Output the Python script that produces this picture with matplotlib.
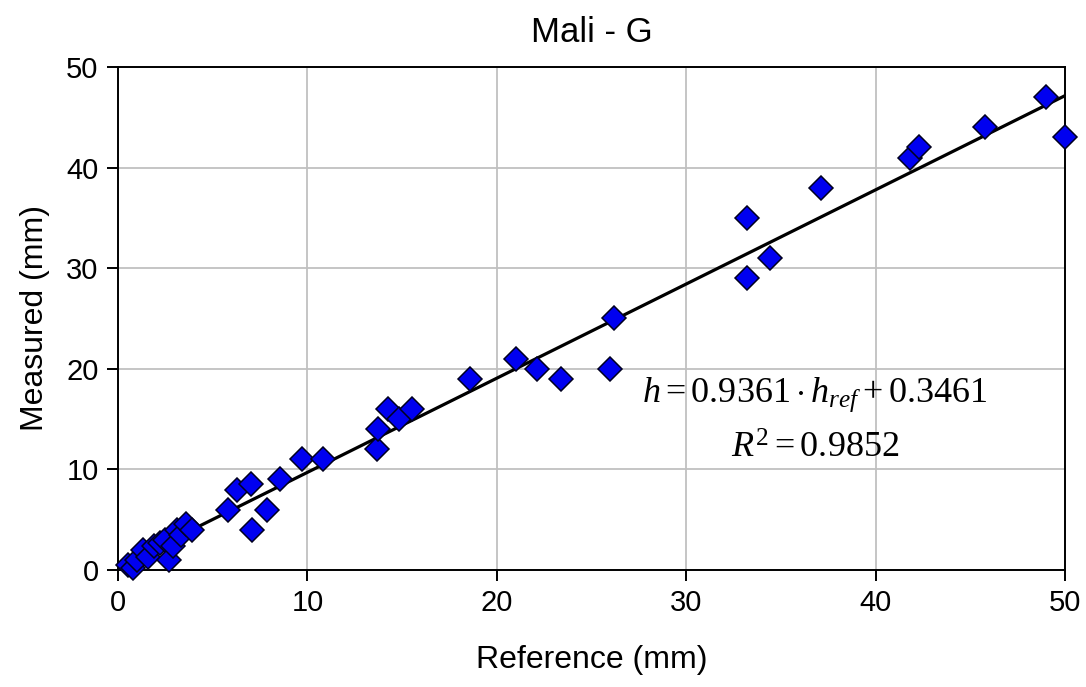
import matplotlib.pyplot as plt
import numpy as np

plt.rcParams["font.family"] = ["Liberation Sans", "DejaVu Sans"]
plt.rcParams["mathtext.fontset"] = "custom"
plt.rcParams["mathtext.rm"] = "Liberation Serif"
plt.rcParams["mathtext.it"] = "Liberation Serif:italic"

# Reference vs measured (mm)
reference = [0.5, 0.8, 1.0, 1.3, 1.6, 1.9, 2.2, 2.5, 2.7, 2.9, 3.1, 3.3, 3.6, 3.9,
             5.8, 6.3, 7.0, 7.05, 7.85, 8.55, 9.7, 10.8,
             13.66, 13.74, 14.27, 14.85, 15.5,
             18.6, 21.0, 22.1, 23.4, 26.0, 26.2,
             33.2, 33.2, 34.4, 37.1, 41.8, 42.3, 45.8, 49.0, 50.0]
measured = [0.5, 0.2, 1.0, 2.0, 1.3, 2.4, 2.7, 3.0, 1.0, 2.4, 4.0, 3.5, 4.6, 4.0,
            6.0, 8.0, 8.5, 4.0, 6.0, 9.0, 11.0, 11.0,
            12.0, 14.0, 16.0, 15.0, 16.0,
            19.0, 21.0, 20.0, 19.0, 20.0, 25.0,
            35.0, 29.0, 31.0, 38.0, 41.0, 42.0, 44.0, 47.0, 43.0]

slope = 0.9361
intercept = 0.3461
r2 = 0.9852

fig = plt.figure(figsize=(10.86, 6.87), dpi=100)
ax = fig.add_axes([0.1087, 0.1703, 0.872, 0.7322])

ax.grid(True, color="#c0c0c0", linewidth=1.3, zorder=0)

# trend line over the data range
xfit = np.array([min(reference), max(reference)])
ax.plot(xfit, slope * xfit + intercept, color="black", linewidth=2.3, zorder=3)

ax.plot(reference, measured, linestyle="none", marker="D", markersize=12.5,
        markerfacecolor="#0000f0", markeredgecolor="#000020", markeredgewidth=1.1,
        clip_on=False, zorder=4)

ax.set_xlim(0, 50)
ax.set_ylim(0, 50)
ax.set_xticks([0, 10, 20, 30, 40, 50])
ax.set_yticks([0, 10, 20, 30, 40, 50])
ax.tick_params(direction="out", length=8, width=1.4, labelsize=21, pad=6)
for s in ax.spines.values():
    s.set_linewidth(1.4)

ax.set_xlabel("Reference (mm)", fontsize=23, labelpad=20)
ax.set_ylabel("Measured (mm)", fontsize=23, labelpad=12)
ax.set_title("Mali - G", fontsize=25, pad=18)

ax.text(36.8, 16.7, rf"$h = {slope:.4f} \cdot h_{{ref}} + {intercept:.4f}$",
        fontsize=26, ha="center", va="baseline", zorder=5)
ax.text(36.8, 11.2, rf"$R^2 = {r2:.4f}$", fontsize=26, ha="center",
        va="baseline", zorder=5)

fig.savefig("out.png", dpi=100)
